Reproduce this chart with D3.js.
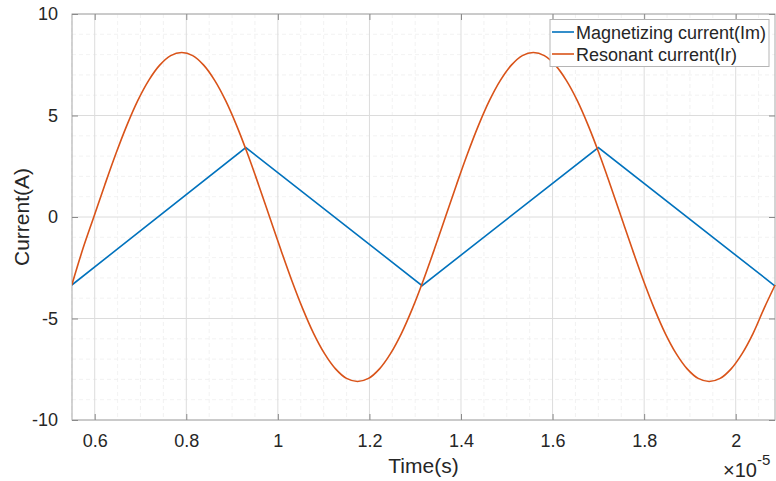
<!DOCTYPE html>
<html><head><meta charset="utf-8">
<script src="https://cdn.jsdelivr.net/npm/d3@7"></script>
<style>body{margin:0;background:#fff;} text{font-family:"Liberation Sans",Arial,sans-serif;fill:#262626;}</style>
</head><body>
<svg id="c" width="776" height="481"></svg>
<script>
// Time in units of 1e-5 s
const imTime = [0.550, 0.930, 1.315, 1.700, 2.086];
const imValues = [-3.35, 3.42, -3.38, 3.42, -3.40];

const irTime = [0.550,0.574,0.598,0.622,0.646,0.670,0.694,0.718,0.742,0.766,0.790,0.814,0.838,0.862,0.886,0.910,0.934,0.958,0.982,1.006,1.030,1.054,1.078,1.102,1.126,1.150,1.174,1.198,1.222,1.246,1.270,1.294,1.318,1.342,1.366,1.390,1.414,1.438,1.462,1.486,1.510,1.534,1.558,1.582,1.606,1.630,1.654,1.678,1.702,1.726,1.750,1.774,1.798,1.822,1.846,1.870,1.894,1.918,1.942,1.966,1.990,2.014,2.038,2.062,2.086];
const irValues = [-3.35,-1.58,0,1.58,3.10,4.50,5.73,6.73,7.48,7.95,8.10,7.95,7.48,6.73,5.73,4.50,3.10,1.58,0,-1.58,-3.10,-4.50,-5.73,-6.73,-7.48,-7.95,-8.10,-7.95,-7.48,-6.73,-5.73,-4.50,-3.10,-1.58,0,1.58,3.10,4.50,5.73,6.73,7.48,7.95,8.10,7.95,7.48,6.73,5.73,4.50,3.10,1.58,0,-1.58,-3.10,-4.50,-5.73,-6.73,-7.48,-7.95,-8.10,-7.95,-7.48,-6.73,-5.73,-4.50,-3.35];

const xTicks = [0.6, 0.8, 1.0, 1.2, 1.4, 1.6, 1.8, 2.0];
const xTickLabels = ["0.6","0.8","1","1.2","1.4","1.6","1.8","2"];
const yTicks = [-10, -5, 0, 5, 10];
const yTickLabels = ["-10","-5","0","5","10"];
const seriesNames = ["Magnetizing current(Im)", "Resonant current(Ir)"];
const xLabel = "Time(s)", yLabel = "Current(A)";

const svg = d3.select("#c");
const L = 72, R = 775, T = 14, B = 420;
const x = d3.scaleLinear().domain([0.5504, 2.0858]).range([L, R]);
const y = d3.scaleLinear().domain([-10, 10]).range([B, T]);

// minor grid
const g = svg.append("g");
d3.range(0.55, 2.09, 0.05).forEach(v => {
  if (Math.abs(v*5 - Math.round(v*5)) < 1e-6) return;
  g.append("line").attr("x1", x(v)).attr("x2", x(v)).attr("y1", T).attr("y2", B)
    .attr("stroke", "#efefef").attr("stroke-width", 0.8).attr("stroke-dasharray", "4,3");
});
d3.range(-10, 10.5, 1).forEach(v => {
  if (v % 5 === 0) return;
  g.append("line").attr("x1", L).attr("x2", R).attr("y1", y(v)).attr("y2", y(v))
    .attr("stroke", "#efefef").attr("stroke-width", 0.8).attr("stroke-dasharray", "4,3");
});
// major grid
xTicks.forEach(v => g.append("line").attr("x1", x(v)).attr("x2", x(v)).attr("y1", T).attr("y2", B).attr("stroke", "#dcdcdc").attr("stroke-width", 1));
yTicks.forEach(v => g.append("line").attr("x1", L).attr("x2", R).attr("y1", y(v)).attr("y2", y(v)).attr("stroke", "#dcdcdc").attr("stroke-width", 1));

// box
svg.append("rect").attr("x", L).attr("y", T).attr("width", R - L).attr("height", B - T)
  .attr("fill", "none").attr("stroke", "#a8a8a8").attr("stroke-width", 1);

// axes with inward ticks
const xAxis = d3.axisBottom(x).tickValues(xTicks).tickFormat((d, i) => xTickLabels[i]).tickSizeInner(-6).tickSizeOuter(0).tickPadding(14);
const gx = svg.append("g").attr("transform", `translate(0,${B})`).call(xAxis);
gx.select(".domain").remove();
gx.selectAll("line").attr("stroke", "#8a8a8a");
gx.selectAll("text").style("font-size", "18px").attr("fill", "#262626");
const gxt = svg.append("g").attr("transform", `translate(0,${T})`).call(d3.axisTop(x).tickValues(xTicks).tickSizeInner(-6).tickSizeOuter(0).tickFormat(""));
gxt.select(".domain").remove(); gxt.selectAll("line").attr("stroke", "#8a8a8a");

const yAxis = d3.axisLeft(y).tickValues(yTicks).tickFormat((d, i) => yTickLabels[i]).tickSizeInner(-6).tickSizeOuter(0).tickPadding(14);
const gy = svg.append("g").attr("transform", `translate(${L},0)`).call(yAxis);
gy.select(".domain").remove();
gy.selectAll("line").attr("stroke", "#8a8a8a");
gy.selectAll("text").style("font-size", "18px").attr("fill", "#262626");
const gyr = svg.append("g").attr("transform", `translate(${R},0)`).call(d3.axisRight(y).tickValues(yTicks).tickSizeInner(-6).tickSizeOuter(0).tickFormat(""));
gyr.select(".domain").remove(); gyr.selectAll("line").attr("stroke", "#8a8a8a");

// lines
const colors = ["#0072BD", "#D95319"];
svg.append("defs").append("clipPath").attr("id", "clip").append("rect").attr("x", L).attr("y", T).attr("width", R - L + 1).attr("height", B - T);
const lineIm = d3.line().x((d, i) => x(imTime[i])).y(d => y(d));
const lineIr = d3.line().x((d, i) => x(irTime[i])).y(d => y(d)).curve(d3.curveCatmullRom.alpha(0.5));
svg.append("path").attr("d", lineIm(imValues)).attr("fill", "none").attr("stroke", colors[0]).attr("stroke-width", 1.6).attr("clip-path", "url(#clip)");
svg.append("path").attr("d", lineIr(irValues)).attr("fill", "none").attr("stroke", colors[1]).attr("stroke-width", 1.6).attr("clip-path", "url(#clip)");

// axis labels
svg.append("text").attr("x", (L + R) / 2).attr("y", 473).attr("text-anchor", "middle").style("font-size", "21px").text(xLabel);
svg.append("text").attr("transform", "translate(29,217) rotate(-90)").attr("text-anchor", "middle").style("font-size", "21px").text(yLabel);

// exponent
const ex = svg.append("text").attr("x", 723).attr("y", 477).style("font-size", "20px");
ex.append("tspan").text("\u00d710");
ex.append("tspan").attr("dy", -12).style("font-size", "15px").text("-5");

// legend
const lg = svg.append("g");
lg.append("rect").attr("x", 550).attr("y", 19.5).attr("width", 219).attr("height", 47).attr("fill", "#fff").attr("stroke", "#b5b5b5").attr("stroke-width", 1);
seriesNames.forEach((n, i) => {
  const yy = 32 + i * 22;
  lg.append("line").attr("x1", 552).attr("x2", 574).attr("y1", yy).attr("y2", yy).attr("stroke", colors[i]).attr("stroke-width", 1.6);
  lg.append("text").attr("x", 576).attr("y", yy + 6.5).style("font-size", "18px").text(n);
});
</script>
</body></html>
